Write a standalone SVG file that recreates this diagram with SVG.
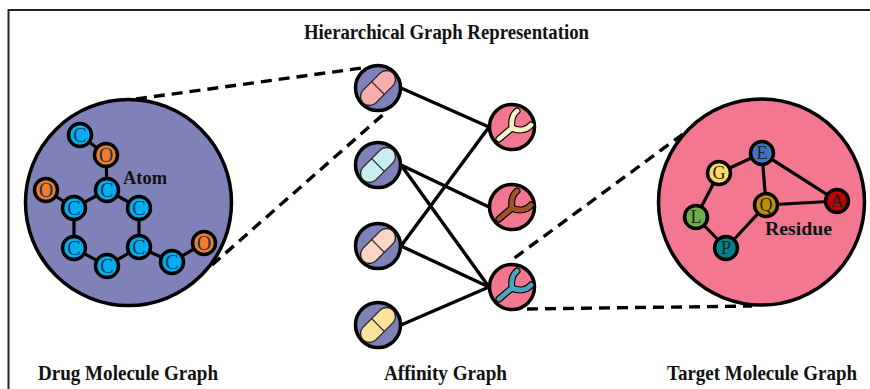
<svg xmlns="http://www.w3.org/2000/svg" width="870" height="389" viewBox="0 0 870 389">
<style>
text{font-family:"Liberation Serif","Times New Roman",serif;fill:#111}
.t{font-size:20px;font-weight:bold}
.l{font-size:18px;font-weight:bold}
.a{font-size:20px;text-anchor:middle;fill:#0a3a5c}
.r{font-size:18px;text-anchor:middle;fill:#222}
.big{stroke:#000;stroke-width:3.5}
.n{stroke:#000;stroke-width:3.5}
.b{stroke:#000;stroke-width:3.2;fill:none}
.e{stroke:#000;stroke-width:3.4;fill:none}
.d{stroke:#000;stroke-width:3.4;fill:none;stroke-dasharray:11 7}
.drug{fill:#7f82b8}.tgt{fill:#f2778f}
.c{fill:#00aeef}.o{fill:#f47b2a}
.po{stroke:#222;stroke-width:1.300}
.yo{fill:none;stroke:#000;stroke-width:7;stroke-linecap:round;stroke-linejoin:round}
.yi{fill:none;stroke-width:4.800;stroke-linecap:round;stroke-linejoin:round}
</style>
<defs>
<path id="yp" d="M-13 12L0 1C-1 -6 0 -12 5 -16M0 1C6 4 14 4 19 -2"/>
<g id="pill"><rect x="-21" y="-9" width="42" height="18" rx="9" class="po" style="fill:inherit"/><path d="M0 -9V9" class="po"/></g>
</defs>
<path d="M870 10H8.500V389" fill="none" stroke="#222" stroke-width="2"/>
<text class="t" x="304" y="39" textLength="285" lengthAdjust="spacingAndGlyphs">Hierarchical Graph Representation</text>
<text class="t" x="38" y="380" textLength="180" lengthAdjust="spacingAndGlyphs">Drug Molecule Graph</text>
<text class="t" x="384" y="380" textLength="123" lengthAdjust="spacingAndGlyphs">Affinity Graph</text>
<text class="t" x="667" y="380" textLength="190" lengthAdjust="spacingAndGlyphs">Target Molecule Graph</text>
<g id="drug-molecule-graph">
<circle class="big drug" cx="128.500" cy="202.500" r="103"/>
<g class="b">
<path d="M80 135L106 155L107 190L74 208V248L107 266L139 247V208L107 190"/><path d="M46 190L74 208M139 247L172 262L204 243"/>
</g>
<g id="atom-1"><circle class="n c" cx="80" cy="135" r="11.500"/><text class="a" x="80" y="142">C</text></g>
<g id="atom-2"><circle class="n o" cx="106" cy="155" r="11.500"/><text class="a" x="106" y="162">O</text></g>
<g id="atom-3"><circle class="n c" cx="107" cy="190" r="11.500"/><text class="a" x="107" y="197">C</text></g>
<g id="atom-4"><circle class="n o" cx="46" cy="190" r="11.500"/><text class="a" x="46" y="197">O</text></g>
<g id="atom-5"><circle class="n c" cx="74" cy="208" r="11.500"/><text class="a" x="74" y="215">C</text></g>
<g id="atom-6"><circle class="n c" cx="139" cy="208" r="11.500"/><text class="a" x="139" y="215">C</text></g>
<g id="atom-7"><circle class="n c" cx="74" cy="248" r="11.500"/><text class="a" x="74" y="255">C</text></g>
<g id="atom-8"><circle class="n c" cx="139" cy="247" r="11.500"/><text class="a" x="139" y="254">C</text></g>
<g id="atom-9"><circle class="n c" cx="107" cy="266" r="11.500"/><text class="a" x="107" y="273">C</text></g>
<g id="atom-10"><circle class="n c" cx="172" cy="262" r="11.500"/><text class="a" x="172" y="269">C</text></g>
<g id="atom-11"><circle class="n o" cx="204" cy="243" r="11.500"/><text class="a" x="204" y="250">O</text></g>
<text class="l" x="123" y="184" textLength="44" lengthAdjust="spacingAndGlyphs">Atom</text>
</g>
<g id="target-molecule-graph">
<circle class="big tgt" cx="761.500" cy="202" r="103"/>
<g class="b"><path d="M762 153L719 173L696 217L726 248L766 205L762 153L837 201L766 205"/></g>
<g id="res-E"><circle class="n" fill="#4472c4" cx="762" cy="153" r="11.500"/><text class="r" x="762" y="159">E</text></g>
<g id="res-G"><circle class="n" fill="#ffd966" cx="719" cy="173" r="11.500"/><text class="r" x="719" y="179">G</text></g>
<g id="res-L"><circle class="n" fill="#70ad47" cx="696" cy="217" r="11.500"/><text class="r" x="696" y="223">L</text></g>
<g id="res-P"><circle class="n" fill="#00808a" cx="726" cy="248" r="11.500"/><text class="r" x="726" y="254">P</text></g>
<g id="res-Q"><circle class="n" fill="#bf9000" cx="766" cy="205" r="11.500"/><text class="r" x="766" y="211">Q</text></g>
<g id="res-A"><circle class="n" fill="#c00000" cx="837" cy="201" r="11.500"/><text class="r" x="837" y="207">A</text></g>
<text class="l" x="765" y="235" textLength="67" lengthAdjust="spacingAndGlyphs">Residue</text>
</g>
<g id="connectors">
<path class="e" d="M401 88L489 127M401 165L489 207M401 165L489 287M401 246L489 127M401 246L489 287M401 325L489 287"/>
<path class="d" d="M136 99L362 68M212 265L386 112M683 134L509 262M527 309L752 306"/>
</g>
<g id="drug-1"><circle class="n drug" cx="378" cy="88" r="22.500"/><g transform="translate(378 88) rotate(-45)" fill="#f5adad"><use href="#pill"/></g></g>
<g id="drug-2"><circle class="n drug" cx="378" cy="165" r="22.500"/><g transform="translate(378 165) rotate(-45)" fill="#c8eef0"><use href="#pill"/></g></g>
<g id="drug-3"><circle class="n drug" cx="378" cy="246" r="22.500"/><g transform="translate(378 246) rotate(-45)" fill="#fdd5c5"><use href="#pill"/></g></g>
<g id="drug-4"><circle class="n drug" cx="378" cy="325" r="22.500"/><g transform="translate(378 325) rotate(-45)" fill="#fee29b"><use href="#pill"/></g></g>
<g id="target-1"><circle class="n tgt" cx="512" cy="127" r="22.500"/><g transform="translate(512 127)"><use href="#yp" class="yo"/><use href="#yp" class="yi" stroke="#f3f4c8"/></g></g>
<g id="target-2"><circle class="n tgt" cx="512" cy="207" r="22.500"/><g transform="translate(512 207)"><use href="#yp" class="yo"/><use href="#yp" class="yi" stroke="#a0522d"/></g></g>
<g id="target-3"><circle class="n tgt" cx="512" cy="287" r="22.500"/><g transform="translate(512 287)"><use href="#yp" class="yo"/><use href="#yp" class="yi" stroke="#4aa3bf"/></g></g>
</svg>
